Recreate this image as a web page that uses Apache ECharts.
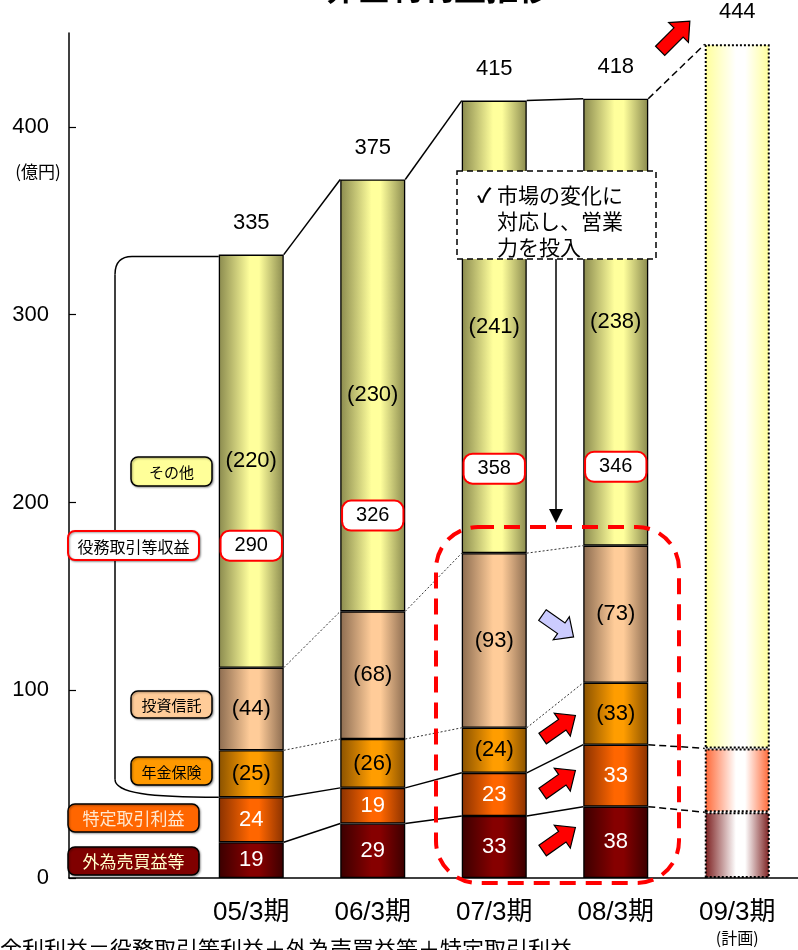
<!DOCTYPE html>
<html><head><meta charset="utf-8">
<script src="https://cdn.jsdelivr.net/npm/echarts@6/dist/echarts.min.js"></script>
<style>html,body{margin:0;padding:0;background:#fff}#c{width:798px;height:950px}</style>
</head><body><div id="c"></div>
<script>
// ---- data ----
const categories = ['', '05/3期', '06/3期', '07/3期', '08/3期', '09/3期'];
const fxTrading   = [19, 29, 33, 38, 35];        // 外為売買益等
const specTrading = [24, 19, 23, 33, 34];        // 特定取引利益
const pension     = [25, 26, 24, 33, null];      // 年金保険
const invTrust    = [44, 68, 93, 73, null];      // 投資信託
const others      = [220, 230, 241, 238, 375];   // その他
const feeTotals   = [290, 326, 358, 346];        // 役務取引等収益
const totals      = [335, 375, 415, 418, 444];   // 非金利利益
const feeBoxAt    = [177, 193, 218, 219];        // value level of the fee boxes
const yTicks      = [0, 100, 200, 300, 400];
const PLAN = 4;

const FONT = "'Liberation Sans','Noto Sans CJK JP','DejaVu Sans',sans-serif";
const CJK = "'Noto Sans CJK JP','Liberation Sans','DejaVu Sans',sans-serif";

function grad(edge, center) {
  return {type:'linear', x:0, y:0, x2:1, y2:0, colorStops:[
    {offset:0, color:edge}, {offset:0.48, color:center}, {offset:0.62, color:center}, {offset:1, color:edge}]};
}
function mk(name, vals, real, plan, labelColor, paren) {
  return {
    name, type:'bar', stack:'s', barWidth:65, animation:false,
    emphasis:{disabled:true},
    itemStyle:{color:real, borderColor:'#000', borderWidth:1.3},
    label:{show:true, position:'inside', color:labelColor, fontSize:22, fontFamily:FONT,
      formatter:p => paren ? '(' + p.value + ')' : String(p.value)},
    data:['-'].concat(vals.map((v,i) => v == null ? '-' : (i === PLAN
      ? {value:v, label:{show:false}, itemStyle:{color:plan, borderType:[2,2], borderWidth:2, borderColor:'#000'}}
      : v)))
  };
}

const tops = fxTrading.map((v,i) => v + specTrading[i] + (pension[i]||0) + (invTrust[i]||0) + others[i]);

const chart = echarts.init(document.getElementById('c'), null, {renderer:'canvas'});
chart.setOption({
  animation:false,
  backgroundColor:'#fff',
  grid:{left:69, right:0, top:33, bottom:72},
  xAxis:{type:'category', data:categories,
    axisLine:{lineStyle:{color:'#000', width:1.5}},
    axisTick:{inside:true, length:7, lineStyle:{color:'#000', width:1.2}},
    axisLabel:{interval:0, margin:20, color:'#000', fontSize:26, fontFamily:FONT, lineHeight:30,
      formatter:v => v === '09/3期' ? v + '\n{s|(計画)}' : v,
      rich:{s:{fontSize:16, lineHeight:20, color:'#000', fontFamily:CJK}}}},
  yAxis:{type:'value', min:0, max:450, interval:100,
    axisLine:{show:true, lineStyle:{color:'#000', width:1.5}},
    axisTick:{show:true, inside:true, length:7, customValues:yTicks, lineStyle:{color:'#000', width:1.2}},
    axisLabel:{margin:20, color:'#000', fontSize:22, fontFamily:FONT, customValues:yTicks},
    splitLine:{show:false}},
  series:[
    mk('外為売買益等', fxTrading, grad('#3a0000','#860000'), grad('#7a1c1c','#ffffff'), '#fff', false),
    mk('特定取引利益', specTrading, grad('#8a3200','#ff6600'), grad('#ff6633','#ffffff'), '#fff', false),
    mk('年金保険', pension, grad('#8a5200','#ff9d00'), null, '#000', true),
    mk('投資信託', invTrust, grad('#8c6c50','#ffcc99'), null, '#000', true),
    mk('その他', others, grad('#8a8a4e','#ffff9c'), grad('#ffff99','#ffffff'), '#000', true),
    {type:'scatter', symbolSize:0, itemStyle:{color:'#000', opacity:1}, z:6, animation:false, emphasis:{disabled:true},
      data:tops.map((v,i) => [i+1, v]),
      label:{show:true, position:'top', distance:21, color:'#000', fontSize:22, fontFamily:FONT,
        formatter:p => String(totals[p.dataIndex])}},
    {type:'scatter', symbolSize:0, itemStyle:{color:'#000', opacity:1}, z:10, animation:false, emphasis:{disabled:true},
      data:feeBoxAt.map((v,i) => [i+1, v]),
      label:{show:true, position:'inside', color:'#000', fontSize:20, fontFamily:FONT, lineHeight:22,
        backgroundColor:'#fff', borderColor:'#ff0000', borderWidth:2, borderRadius:8, padding:[3,13,3,13],
        formatter:p => String(feeTotals[p.dataIndex])}}
  ]
});

// ---- annotations ----
const G = [];
const HALF = 32.5;
function px(ci, v) { return chart.convertToPixel({xAxisIndex:0, yAxisIndex:0}, [ci, v]); }
const bounds = fxTrading.map((v,i) => {
  const b1 = v, b2 = b1 + specTrading[i], b3 = b2 + (pension[i]||0), b4 = b3 + (invTrust[i]||0), b5 = b4 + others[i];
  return [b1, b2, b3, b4, b5];
});
function seg(i, lvl, style) {
  const a = px(i+1, bounds[i][lvl]), b = px(i+2, bounds[i+1][lvl]);
  G.push({type:'line', z:20, shape:{x1:a[0]+HALF, y1:a[1], x2:b[0]-HALF, y2:b[1]}, style});
}
const solid = {stroke:'#000', lineWidth:1.5};
const dotted = {stroke:'#333', lineWidth:1, lineDash:[2,2]};
const dashed = {stroke:'#000', lineWidth:1.5, lineDash:[7,4]};
for (let i = 0; i < 3; i++) {
  seg(i, 0, solid); seg(i, 1, solid); seg(i, 2, dotted); seg(i, 3, dotted); seg(i, 4, solid);
}
seg(3, 0, dashed); seg(3, 1, dashed); seg(3, 4, dashed);

// bracket on the left of 05
const bt = px(1, bounds[0][4])[1] + 2, bb = px(1, bounds[0][1])[1], bl = px(1, 0)[0] - HALF;
const bs = {fill:'none', stroke:'#000', lineWidth:1.5};
G.push({type:'line', z:1, shape:{x1:bl, y1:bt, x2:132, y2:bt}, style:bs});
G.push({type:'bezierCurve', z:1, shape:{x1:132, y1:bt, cpx1:115, cpy1:bt, x2:115, y2:bt+18}, style:bs});
G.push({type:'line', z:1, shape:{x1:115, y1:bt+18, x2:115, y2:bb-18}, style:bs});
G.push({type:'bezierCurve', z:1, shape:{x1:115, y1:bb-18, cpx1:115, cpy1:bb-4, cpx2:150, cpy2:bb, x2:bl, y2:bb}, style:bs});

// labelled boxes
function box(x, y, w, h, fill, stroke, lw, text, tc, fs) {
  G.push({type:'rect', z:30, shape:{x, y, width:w, height:h, r:7},
    style:{fill, stroke, lineWidth:lw, shadowBlur:2, shadowColor:'rgba(0,0,0,0.35)', shadowOffsetX:1, shadowOffsetY:1}});
  G.push({type:'text', z:31, style:{text, x:x+w/2, y:y+h/2+1, fill:tc, font:`${fs}px ${CJK}`,
    align:'center', verticalAlign:'middle', textAlign:'center', textVerticalAlign:'middle'}});
}
box(131, 457, 81, 29, '#ffff99', '#000', 1.5, 'その他', '#000', 15);
box(68, 531, 131, 29, '#fff', '#ff0000', 2, '役務取引等収益', '#000', 16);
box(131, 691, 81, 27, '#ffcc99', '#000', 1.5, '投資信託', '#000', 15);
box(131, 757, 81, 28, '#ff9900', '#000', 1.5, '年金保険', '#000', 15);
box(68, 804, 131, 28, '#ff6600', '#000', 1.5, '特定取引利益', '#ffe8d0', 17);
box(68, 847, 131, 28, '#800000', '#000', 1.5, '外為売買益等', '#ffffcc', 17);

// block arrows
function arrow(cx, cy, ang, L, sw, hw, hl, fill) {
  const pts = [[-L/2,-sw/2],[L/2-hl,-sw/2],[L/2-hl,-hw/2],[L/2,0],[L/2-hl,hw/2],[L/2-hl,sw/2],[-L/2,sw/2]];
  const c = Math.cos(ang*Math.PI/180), s = Math.sin(ang*Math.PI/180);
  G.push({type:'polygon', z:40, shape:{points:pts.map(([x,y]) => [cx + x*c - y*s, cy + x*s + y*c])},
    style:{fill, stroke:'#000', lineWidth:1.2}});
}
arrow(559, 727, -35, 40, 13, 28, 16, '#ff0000');
arrow(559, 782, -35, 40, 13, 28, 16, '#ff0000');
arrow(559, 839, -35, 40, 13, 28, 16, '#ff0000');
arrow(675, 36, -45, 42, 13, 28, 16, '#ff0000');
arrow(558, 626, 35, 38, 13, 28, 15, '#ccccff');

// red dashed highlight
G.push({type:'rect', z:45, shape:{x:436, y:527, width:243, height:356, r:42},
  style:{fill:'none', stroke:'#ff0000', lineWidth:4, lineDash:[16,10]}});

// note box + arrow
G.push({type:'line', z:46, shape:{x1:556, y1:259, x2:556, y2:511}, style:{stroke:'#000', lineWidth:1.5}});
G.push({type:'polygon', z:46, shape:{points:[[549,509],[563,509],[556,523]]}, style:{fill:'#000'}});
G.push({type:'rect', z:47, shape:{x:457, y:171, width:199, height:88},
  style:{fill:'#fff', stroke:'#000', lineWidth:1.5, lineDash:[6,4]}});
G.push({type:'text', z:48, style:{text:'✓', x:477, y:195, fill:'#000', font:`bold 20px ${CJK}`,
  align:'left', verticalAlign:'middle', textAlign:'left', textVerticalAlign:'middle'}});
['市場の変化に', '対応し、営業', '力を投入'].forEach((t, k) => {
  G.push({type:'text', z:48, style:{text:t, x:497, y:195 + k*26, fill:'#000', font:`21px ${CJK}`,
    align:'left', verticalAlign:'middle', textAlign:'left', textVerticalAlign:'middle'}});
});

// unit
G.push({type:'text', z:30, style:{text:'(億円)', x:38, y:172, fill:'#000', font:`17px ${CJK}`,
  align:'center', verticalAlign:'middle', textAlign:'center', textVerticalAlign:'middle'}});
// title (cut off at top)
G.push({type:'text', z:30, style:{text:'非金利利益推移', x:438, y:4, fill:'#000', font:`bold 32px ${CJK}`,
  align:'center', verticalAlign:'bottom', textAlign:'center', textVerticalAlign:'bottom'}});
// footnote (cut off at bottom)
G.push({type:'text', z:30, style:{text:'非金利利益＝役務取引等利益＋外為売買益等＋特定取引利益', x:-22, y:938, fill:'#000', font:`22px ${CJK}`,
  align:'left', verticalAlign:'top', textAlign:'left', textVerticalAlign:'top'}});

chart.setOption({graphic:{elements:G}});
</script>
</body></html>
